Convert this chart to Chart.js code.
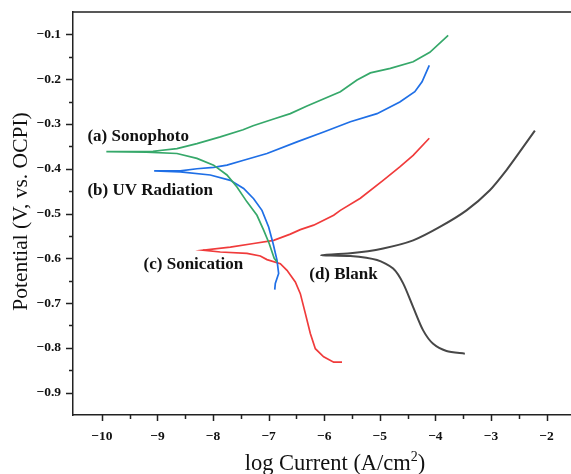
<!DOCTYPE html>
<html>
<head>
<meta charset="utf-8">
<script src="https://cdn.jsdelivr.net/npm/chart.js@4.4.1/dist/chart.umd.min.js"></script>
<style>
    html, body { margin: 0; padding: 0; background: #fff; overflow: hidden; }
    #wrap { width: 571px; height: 474px; }
</style>
</head>
<body>
<div id="wrap"><canvas id="tafel" width="571" height="474"></canvas></div>
<script>
// Polarisation scans: log current (A/cm2) vs potential (V vs. OCP),
// each listed from the cathodic end through Ecorr to the anodic end
const sonophotoLogI = [-6.85, -6.90, -6.99, -7.09, -7.21, -7.30, -7.39, -7.57, -7.75, -7.99, -8.29, -8.65, -9.20, -9.92,
    -9.08, -8.65, -8.29, -7.87, -7.46, -7.28, -6.91, -6.61, -6.31, -5.71, -5.41, -5.17, -4.81, -4.40, -4.10, -3.77];
const sonophotoE = [-0.608, -0.600, -0.567, -0.537, -0.504, -0.489, -0.474, -0.441, -0.414, -0.392, -0.377, -0.366, -0.363, -0.362,
    -0.361, -0.355, -0.344, -0.329, -0.313, -0.304, -0.289, -0.277, -0.260, -0.228, -0.202, -0.186, -0.176, -0.161, -0.140, -0.102];

const uvLogI = [-6.89, -6.88, -6.82, -6.85, -6.92, -7.00, -7.12, -7.27, -7.45, -7.69, -8.05, -8.59, -9.06,
    -8.59, -8.29, -7.99, -7.75, -7.45, -7.03, -6.49, -6.01, -5.53, -5.05, -4.64, -4.37, -4.24, -4.11];
const uvE = [-0.670, -0.656, -0.634, -0.604, -0.567, -0.530, -0.493, -0.467, -0.444, -0.426, -0.414, -0.407, -0.405,
    -0.405, -0.400, -0.397, -0.392, -0.381, -0.366, -0.340, -0.318, -0.295, -0.277, -0.251, -0.228, -0.206, -0.169];

const sonicationLogI = [-5.68, -5.83, -6.01, -6.16, -6.25, -6.34, -6.43, -6.52, -6.67, -6.79, -7.03, -7.15, -7.39, -7.87, -8.18,
    -7.69, -7.27, -6.91, -6.61, -6.43, -6.19, -5.83, -5.71, -5.35, -4.94, -4.64, -4.40, -4.11];
const sonicationE = [-0.832, -0.832, -0.820, -0.802, -0.768, -0.723, -0.679, -0.653, -0.627, -0.612, -0.603, -0.595, -0.589, -0.586, -0.582,
    -0.575, -0.567, -0.560, -0.546, -0.536, -0.526, -0.504, -0.493, -0.466, -0.426, -0.396, -0.370, -0.332];

const blankLogI = [-3.47, -3.80, -4.04, -4.22, -4.40, -4.58, -4.76, -5.05, -5.53, -6.06,
    -5.53, -4.94, -4.40, -3.92, -3.44, -3.02, -2.72, -2.48, -2.21];
const blankE = [-0.813, -0.807, -0.791, -0.761, -0.709, -0.656, -0.623, -0.604, -0.595, -0.593,
    -0.589, -0.578, -0.560, -0.530, -0.493, -0.448, -0.403, -0.362, -0.315];

const xTickValues = [-10, -9, -8, -7, -6, -5, -4, -3, -2];
const xMinorTicks = [-9.5, -8.5, -7.5, -6.5, -5.5, -4.5, -3.5, -2.5];
const yTickValues = [-0.1, -0.2, -0.3, -0.4, -0.5, -0.6, -0.7, -0.8, -0.9];
const yMinorTicks = [-0.15, -0.25, -0.35, -0.45, -0.55, -0.65, -0.75, -0.85];

const AXIS_COLOR = '#222';
const SERIF = '"Liberation Serif", "Times New Roman", serif';

// curve captions, anchored at their left baseline in data units
const curveLabels = [
    { text: '(a) Sonophoto', x: -10.26, y: -0.338 },
    { text: '(b) UV Radiation', x: -10.26, y: -0.459 },
    { text: '(c) Sonication', x: -9.25, y: -0.625 },
    { text: '(d) Blank', x: -6.27, y: -0.647 }
];

const toPoints = (xs, ys) => xs.map((v, i) => ({ x: v, y: ys[i] }));
const minus = v => (v < 0 ? '\u2212' : '');

const frameAndText = {
    id: 'frameAndText',
    afterDraw(chart) {
        const { ctx, chartArea: a, scales: { x, y } } = chart;
        ctx.save();

        // top frame line plus major / minor tick marks
        ctx.strokeStyle = AXIS_COLOR;
        ctx.lineWidth = 1.5;
        ctx.beginPath();
        ctx.moveTo(a.left, a.top);
        ctx.lineTo(a.right, a.top);
        xTickValues.forEach(v => {
            const px = Math.round(x.getPixelForValue(v)) + 0.5;
            ctx.moveTo(px, a.bottom); ctx.lineTo(px, a.bottom + 6);
        });
        xMinorTicks.forEach(v => {
            const px = Math.round(x.getPixelForValue(v)) + 0.5;
            ctx.moveTo(px, a.bottom); ctx.lineTo(px, a.bottom + 4);
        });
        yTickValues.forEach(v => {
            const py = Math.round(y.getPixelForValue(v)) + 0.5;
            ctx.moveTo(a.left, py); ctx.lineTo(a.left - 7, py);
        });
        yMinorTicks.forEach(v => {
            const py = Math.round(y.getPixelForValue(v)) + 0.5;
            ctx.moveTo(a.left, py); ctx.lineTo(a.left - 4, py);
        });
        ctx.stroke();

        ctx.fillStyle = '#111';

        // curve captions
        ctx.font = 'bold 17px ' + SERIF;
        ctx.textAlign = 'left';
        ctx.textBaseline = 'alphabetic';
        curveLabels.forEach(l => {
            ctx.fillText(l.text, x.getPixelForValue(l.x), y.getPixelForValue(l.y));
        });

        // y axis title
        ctx.font = '21.5px ' + SERIF;
        ctx.save();
        ctx.translate(21, (a.top + a.bottom) / 2 - 2);
        ctx.rotate(-Math.PI / 2);
        ctx.textAlign = 'center';
        ctx.textBaseline = 'middle';
        ctx.fillText('Potential (V, vs. OCPI)', 0, 0);
        ctx.restore();

        // x axis title with superscript
        const main = 'log Current (A/cm';
        ctx.font = '22.5px ' + SERIF;
        const w1 = ctx.measureText(main).width;
        const w3 = ctx.measureText(')').width;
        ctx.font = '14px ' + SERIF;
        const w2 = ctx.measureText('2').width;
        const base = 470;
        let tx = 335 - (w1 + w2 + w3) / 2;
        ctx.font = '22.5px ' + SERIF;
        ctx.fillText(main, tx, base);
        tx += w1;
        ctx.font = '14px ' + SERIF;
        ctx.fillText('2', tx, base - 9);
        tx += w2;
        ctx.font = '22.5px ' + SERIF;
        ctx.fillText(')', tx, base);

        ctx.restore();
    }
};

const line = (data, color, width, tension) => ({
    data,
    borderColor: color,
    borderWidth: width,
    pointRadius: 0,
    showLine: true,
    tension: tension || 0,
    fill: false
});

new Chart(document.getElementById('tafel'), {
    type: 'scatter',
    data: {
        datasets: [
            line(toPoints(sonophotoLogI, sonophotoE), '#36a86a', 1.7),
            line(toPoints(uvLogI, uvE), '#1f6fe6', 1.7),
            line(toPoints(sonicationLogI, sonicationE), '#f03b3b', 1.7),
            line(toPoints(blankLogI, blankE), '#474747', 2, 0.25)
        ]
    },
    options: {
        responsive: false,
        animation: false,
        events: [],
        layout: { padding: { top: 12, right: 0, bottom: 0, left: 0 } },
        plugins: { legend: { display: false }, tooltip: { enabled: false } },
        scales: {
            x: {
                type: 'linear',
                min: -10.52,
                max: -1.56,
                grid: { display: false, drawTicks: false },
                border: { display: true, color: AXIS_COLOR, width: 1.5 },
                afterBuildTicks: s => { s.ticks = xTickValues.map(v => ({ value: v })); },
                afterFit: s => { s.height = 59; s.paddingLeft = 0; s.paddingRight = 0; },
                ticks: {
                    padding: 13,
                    color: '#111',
                    font: { family: SERIF, size: 13.5, weight: 'bold' },
                    callback: v => minus(v) + Math.abs(v)
                }
            },
            y: {
                type: 'linear',
                min: -0.95,
                max: -0.05,
                grid: { display: false, drawTicks: false },
                border: { display: true, color: AXIS_COLOR, width: 1.5 },
                afterBuildTicks: s => { s.ticks = yTickValues.map(v => ({ value: v })); },
                afterFit: s => { s.width = 73; s.paddingTop = 0; s.paddingBottom = 0; },
                ticks: {
                    padding: 12,
                    color: '#111',
                    font: { family: SERIF, size: 13.5, weight: 'bold' },
                    callback: v => minus(v) + Math.abs(v).toFixed(1)
                }
            }
        }
    },
    plugins: [frameAndText]
});
</script>
</body>
</html>
